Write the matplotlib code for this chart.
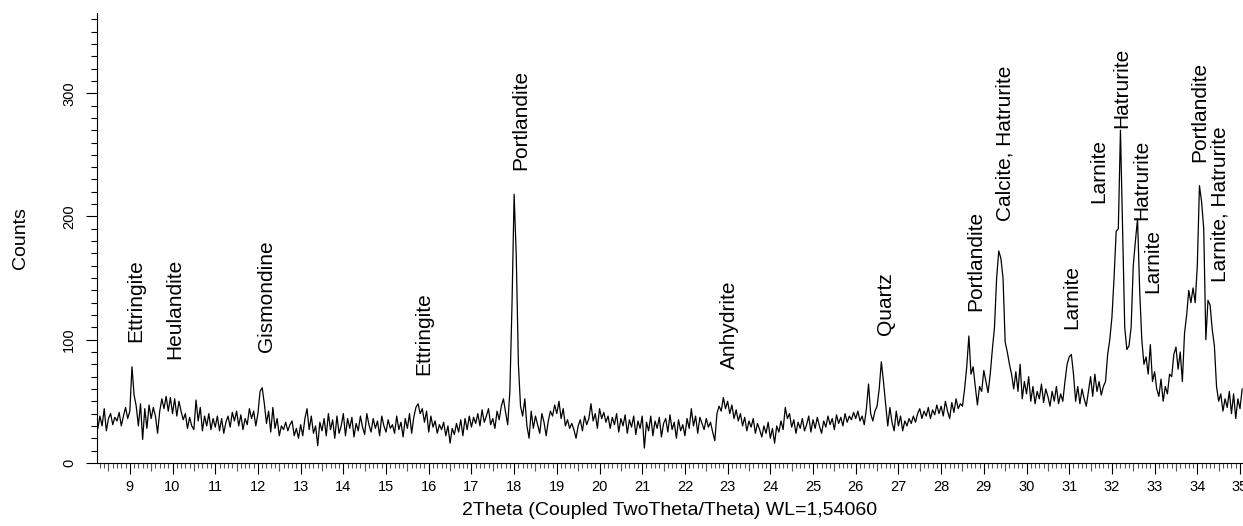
import numpy as np
import matplotlib
matplotlib.use("Agg")
import matplotlib.pyplot as plt
from matplotlib.ticker import MultipleLocator, FixedLocator

plt.rcParams['font.family'] = ['Liberation Sans', 'DejaVu Sans']

# 2theta grid, step 0.05 deg, counts one degree per row
two_theta_start = 8.25
two_theta_step = 0.05
counts = [
    28, 38, 30, 44, 26, 36, 40, 31, 37, 34, 41, 30, 38, 45, 36,  # 8.25-8.95
    42, 78, 55, 46, 30, 48, 19, 44, 28, 47, 36, 45, 38, 24, 42, 52, 44, 54, 42, 53,  # 9
    40, 52, 38, 50, 42, 35, 40, 28, 37, 30, 27, 51, 34, 45, 26, 38, 30, 40, 27, 36,  # 10
    29, 38, 26, 36, 24, 33, 38, 29, 41, 34, 42, 30, 39, 27, 36, 31, 44, 36, 42, 30,  # 11
    40, 58, 61, 48, 32, 42, 25, 45, 28, 36, 22, 30, 27, 33, 26, 31, 34, 22, 28, 20,  # 12
    31, 22, 36, 44, 27, 38, 24, 30, 14, 33, 26, 36, 22, 40, 27, 35, 20, 38, 24, 30,  # 13
    40, 22, 36, 28, 37, 21, 32, 26, 38, 29, 23, 40, 31, 25, 36, 28, 34, 22, 38, 30,  # 14
    25, 35, 28, 31, 24, 38, 27, 33, 21, 36, 28, 40, 24, 37, 45, 48, 40, 44, 33, 42,  # 15
    25, 38, 29, 34, 24, 31, 27, 33, 22, 30, 16, 28, 23, 32, 25, 35, 22, 36, 27, 38,  # 16
    29, 37, 32, 40, 30, 43, 33, 38, 44, 31, 36, 28, 42, 35, 46, 52, 41, 31, 58, 128,  # 17
    218, 168, 80, 46, 38, 52, 30, 20, 42, 28, 38, 31, 24, 40, 33, 22, 34, 42, 38, 47,  # 18
    40, 50, 36, 44, 30, 35, 28, 32, 27, 20, 30, 35, 26, 38, 31, 36, 48, 34, 40, 28,  # 19
    44, 36, 41, 33, 38, 28, 37, 31, 40, 25, 36, 30, 39, 24, 35, 29, 38, 23, 34, 28,  # 20
    38, 12, 33, 26, 38, 22, 34, 28, 37, 21, 32, 36, 25, 39, 27, 33, 20, 35, 26, 31,  # 21
    22, 36, 28, 44, 30, 38, 24, 37, 32, 27, 36, 29, 33, 25, 18, 40, 46, 42, 53, 44,  # 22
    50, 40, 47, 36, 43, 34, 40, 30, 37, 26, 34, 29, 36, 24, 32, 27, 21, 30, 24, 33,  # 23
    20, 28, 16, 30, 25, 34, 27, 45, 36, 40, 29, 35, 24, 33, 28, 36, 26, 31, 38, 25,  # 24
    35, 28, 37, 30, 24, 34, 29, 38, 31, 36, 27, 39, 32, 37, 30, 40, 33, 38, 35, 41,  # 25
    36, 42, 34, 38, 31, 44, 64, 40, 34, 42, 46, 60, 82, 66, 48, 30, 45, 33, 26, 42,  # 26
    30, 38, 26, 34, 30, 36, 32, 38, 33, 40, 44, 36, 42, 38, 45, 36, 43, 39, 47, 40,  # 27
    46, 38, 50, 42, 36, 49, 41, 52, 44, 48, 46, 60, 78, 103, 72, 78, 62, 47, 62, 58,  # 28
    75, 66, 57, 72, 92, 110, 150, 172, 166, 150, 98, 90, 80, 72, 60, 74, 58, 80, 52, 66,  # 29
    56, 70, 50, 62, 48, 58, 52, 64, 49, 60, 54, 46, 58, 50, 62, 48, 56, 50, 66, 80,  # 30
    86, 88, 72, 50, 62, 48, 60, 52, 46, 58, 70, 54, 72, 58, 66, 55, 62, 66, 88, 100,  # 31
    118, 150, 188, 190, 270, 192, 110, 92, 95, 110, 160, 180, 198, 140, 100, 80, 86, 72, 96, 66,  # 32
    74, 60, 54, 68, 50, 62, 56, 72, 70, 88, 94, 76, 90, 66, 105, 120, 140, 130, 142, 130,  # 33
    160, 225, 212, 190, 100, 132, 128, 108, 95, 62, 50, 56, 42, 52, 45, 58, 40, 56, 36, 52,  # 34
    44, 60,  # 35
]
two_theta = two_theta_start + two_theta_step * np.arange(len(counts))

# phase labels: position (2theta), bottom of text (counts)
phase_names = ["Ettringite", "Heulandite", "Gismondine", "Ettringite", "Portlandite",
               "Anhydrite", "Quartz", "Portlandite", "Calcite, Hatrurite", "Larnite",
               "Larnite", "Hatrurite", "Hatrurite", "Larnite", "Portlandite",
               "Larnite, Hatrurite"]
phase_x = [9.14, 10.05, 12.19, 15.89, 18.16, 23.04, 26.70, 28.81, 29.49, 31.06,
           31.70, 32.23, 32.70, 32.96, 34.06, 34.53]
phase_y = [98, 84, 90, 71, 238, 76, 104, 123, 196, 109, 211, 272, 197, 138, 244, 147]

fig = plt.figure(figsize=(12.43, 5.26), dpi=100)
ax = fig.add_axes([0.078, 0.12, 0.922, 0.855])

ax.plot(two_theta, counts, color='black', lw=0.9)

for name, x, y in zip(phase_names, phase_x, phase_y):
    ax.text(x, y, name, rotation=90, ha='center', va='bottom', fontsize=15)

ax.set_xlim(8.23, 35.07)
ax.set_ylim(0, 365)
ax.spines['top'].set_visible(False)
ax.spines['right'].set_visible(False)

ax.xaxis.set_major_locator(MultipleLocator(1))
ax.xaxis.set_minor_locator(MultipleLocator(0.1))
ax.yaxis.set_major_locator(MultipleLocator(100))
ax.yaxis.set_minor_locator(MultipleLocator(10))
ax.tick_params(axis='x', which='major', length=8, width=0.8, labelsize=10.5, pad=4)
ax.tick_params(axis='x', which='minor', length=3.5, width=0.8, color='#555555')
ax.tick_params(axis='y', which='major', length=8, width=0.8, labelsize=10.5,
               labelrotation=90, pad=7)
ax.tick_params(axis='y', which='minor', length=4, width=0.8)
for lab in ax.get_yticklabels():
    lab.set_va('center')

# half-step ticks a bit longer
sec = ax.secondary_xaxis('bottom')
sec.xaxis.set_major_locator(FixedLocator(np.arange(8.5, 35.1, 1.0)))
sec.tick_params(length=5.5, width=0.8, labelbottom=False, color='#555555')
sec.spines['bottom'].set_visible(False)

ax.set_xlabel("2Theta (Coupled TwoTheta/Theta) WL=1,54060", fontsize=14, labelpad=6)
ax.set_ylabel("Counts", fontsize=14, labelpad=24)

fig.savefig("out.png", dpi=100)
